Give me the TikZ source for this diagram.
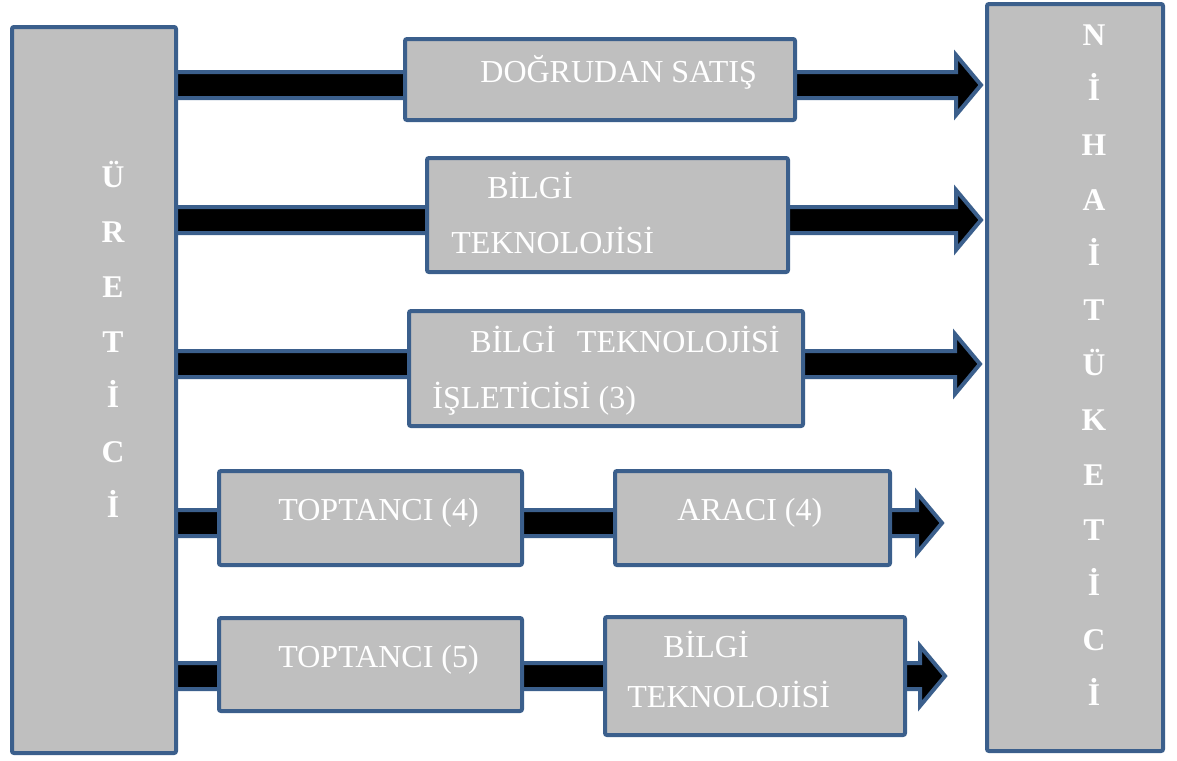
\documentclass[tikz,border=0pt]{standalone}
\usepackage{fontspec}
\setmainfont{Liberation Serif}
\usetikzlibrary{calc,fit}
\definecolor{bord}{RGB}{59,95,140}
\definecolor{boxgray}{RGB}{191,191,191}
\tikzset{
 box/.style={draw=bord, fill=boxgray, line width=2pt, rounded corners=1pt, inner sep=0pt},
 arr/.style={draw=bord, fill=black, line width=2pt, line join=miter},
 lbl/.style={text=white, font=\fontsize{16}{19}\selectfont, inner sep=0pt, anchor=base west},
 lble/.style={lbl, anchor=base east},
 vlet/.style={text=white, font=\fontsize{15.8}{19}\selectfont\bfseries, inner sep=0pt, anchor=base},
}
\newcommand\blockarrow[2]{\draw[arr] ($(#1)+(0,-13)$) -- ($(#2)+(-25,-13)$) -- ($(#2)+(-25,-30)$) -- (#2) -- ($(#2)+(-25,30)$) -- ($(#2)+(-25,13)$) -- ($(#1)+(0,13)$) -- cycle;}
\begin{document}
\begin{tikzpicture}[x=0.5pt,y=-0.5pt]
\useasboundingbox (0,0) rectangle (1177,760);
% arrow end points
\coordinate (s1) at (172,85);  \coordinate (t1) at (981,85);
\coordinate (s2) at (172,220); \coordinate (t2) at (981,220);
\coordinate (s3) at (172,364); \coordinate (t3) at (980,364);
\coordinate (s4) at (172,523); \coordinate (t4) at (942,523);
\coordinate (s5) at (172,676); \coordinate (t5) at (945,676);
\blockarrow{s1}{t1}
\blockarrow{s2}{t2}
\blockarrow{s3}{t3}
\blockarrow{s4}{t4}
\blockarrow{s5}{t5}
% boxes
\node[box, fit={(12,27) (176,753)}] (U) {};
\node[box, fit={(987,4) (1163,751)}] (N) {};
\node[box, fit={(405,39) (795,120)}] (b1) {};
\node[box, fit={(427,158) (788,272)}] (b2) {};
\node[box, fit={(409,311) (803,426)}] (b3) {};
\node[box, fit={(219,471) (522,565)}] (b4a) {};
\node[box, fit={(615,471) (890,565)}] (b4b) {};
\node[box, fit={(219,618) (522,711)}] (b5a) {};
\node[box, fit={(605,617) (905,735)}] (b5b) {};
% labels
\node[lbl] (l1) at (480,82) {DOĞRUDAN SATIŞ};
\node[lbl] (l2a) at (487,198) {BİLGİ};
\node[lbl] (l2b) at (451,253) {TEKNOLOJİSİ};
\node[lbl] (l3a) at (470,352) {BİLGİ};
\node[lble] (l3b) at (780,352) {TEKNOLOJİSİ};
\node[lbl] (l3c) at (432,408) {İŞLETİCİSİ (3)};
\node[lbl] (l4a) at (278,520) {TOPTANCI (4)};
\node[lbl] (l4b) at (677,520) {ARACI (4)};
\node[lbl] (l5a) at (278,667) {TOPTANCI (5)};
\node[lbl] (l5b) at (663,657) {BİLGİ};
\node[lbl] (l5c) at (627,707) {TEKNOLOJİSİ};
% vertical words
\foreach \c [count=\i from 0] in {Ü,R,E,T,İ,C,İ}
  \node[vlet] (u\i) at (113,{187+55*\i}) {\c};
\foreach \c [count=\i from 0] in {N,İ,H,A,İ,T,Ü,K,E,T,İ,C,İ}
  \node[vlet] (n\i) at (1094,{45+55*\i}) {\c};
\end{tikzpicture}
\end{document}
